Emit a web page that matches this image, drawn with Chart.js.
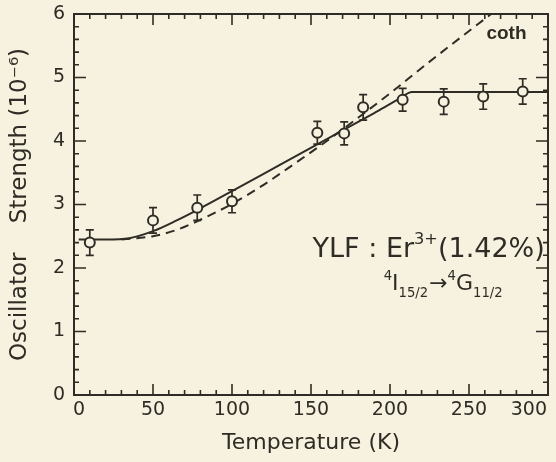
<!DOCTYPE html>
<html>
<head>
<meta charset="utf-8">
<script src="https://cdn.jsdelivr.net/npm/chart.js@4.4.1/dist/chart.umd.min.js"></script>
<style>
  html, body { margin: 0; padding: 0; background: #f7f2e0; overflow: hidden; }
  canvas { display: block; }
</style>
</head>
<body>
<canvas id="myChart" width="556" height="462"></canvas>
<script>
// measured points (open circles with error bars)
const tempK = [10, 50, 78, 100, 154, 171, 183, 208, 234, 259, 284];
const strength = [2.4, 2.75, 2.95, 3.05, 4.13, 4.12, 4.53, 4.65, 4.62, 4.7, 4.78];
const errBar = [0.2, 0.2, 0.2, 0.18, 0.18, 0.18, 0.2, 0.18, 0.2, 0.2, 0.2];

// solid fit curve
const fitTemp = [3, 20, 35, 50, 65, 80, 100, 130, 160, 190, 205, 214, 300];
const fitVal = [2.45, 2.45, 2.47, 2.58, 2.75, 2.94, 3.21, 3.62, 4.03, 4.44, 4.65, 4.77, 4.77];

// dashed "coth" curve
const cothTemp = [30, 40, 50, 65, 80, 100, 120, 140, 160, 180, 200, 220, 240, 264];
const cothVal = [2.45, 2.47, 2.5, 2.6, 2.76, 3.01, 3.31, 3.65, 4.0, 4.37, 4.75, 5.15, 5.54, 6.0];

const xTicks = [0, 50, 100, 150, 200, 250, 300];
const yTicks = [0, 1, 2, 3, 4, 5, 6];

const ink = '#2f2c25';
const paper = '#f7f2e0';
const face = '"DejaVu Sans", sans-serif';

const toXY = (xs, ys) => xs.map((v, i) => ({ x: v, y: ys[i] }));

function drawRuns(ctx, x, y, runs, size) {
    for (const r of runs) {
        const s = (r.sub || r.sup) ? size * 0.6 : size;
        ctx.font = `${s}px ${face}`;
        const dy = r.sup ? -size * 0.45 : r.sub ? size * 0.32 : 0;
        ctx.fillText(r.t, x, y + dy);
        x += ctx.measureText(r.t).width + (r.gap || 0);
    }
}

const frame = {
    id: 'frame',
    beforeDraw(chart) {
        const c = chart.ctx;
        c.save();
        c.fillStyle = paper;
        c.fillRect(0, 0, chart.width, chart.height);
        c.restore();
    },
    beforeDatasetDraw(chart, args) {
        if (args.index !== 0) return;
        const { ctx, scales: { x, y } } = chart;
        ctx.save();
        ctx.strokeStyle = ink;
        ctx.lineWidth = 1.7;
        ctx.beginPath();
        tempK.forEach((t, i) => {
            const px = x.getPixelForValue(t);
            const top = y.getPixelForValue(strength[i] + errBar[i]);
            const bot = y.getPixelForValue(strength[i] - errBar[i]);
            ctx.moveTo(px, top); ctx.lineTo(px, bot);
            ctx.moveTo(px - 4, top); ctx.lineTo(px + 4, top);
            ctx.moveTo(px - 4, bot); ctx.lineTo(px + 4, bot);
        });
        ctx.stroke();
        ctx.restore();
    },
    afterDraw(chart) {
        const { ctx, chartArea: a, scales: { x, y } } = chart;
        ctx.save();
        ctx.strokeStyle = ink;
        ctx.lineWidth = 2;
        ctx.strokeRect(a.left, a.top, a.right - a.left, a.bottom - a.top);
        ctx.lineWidth = 1.6;
        ctx.beginPath();
        for (let t = 0; t <= 300; t += 10) {
            const px = x.getPixelForValue(t);
            const len = t % 50 === 0 ? 11 : 5;
            ctx.moveTo(px, a.bottom); ctx.lineTo(px, a.bottom - len);
            ctx.moveTo(px, a.top); ctx.lineTo(px, a.top + len);
        }
        for (let i = 0; i <= 30; i++) {
            const py = y.getPixelForValue(i / 5);
            const len = i % 5 === 0 ? 12 : 5;
            ctx.moveTo(a.left, py); ctx.lineTo(a.left + len, py);
            ctx.moveTo(a.right, py); ctx.lineTo(a.right - len, py);
        }
        ctx.stroke();

        // x tick labels; first and last pulled inside the frame
        ctx.fillStyle = ink;
        ctx.font = `19px ${face}`;
        ctx.textBaseline = 'top';
        ctx.textAlign = 'center';
        const last = xTicks.length - 1;
        xTicks.forEach((v, i) => {
            const label = String(v);
            const w = ctx.measureText(label).width;
            let px = x.getPixelForValue(v);
            if (i === 0) px += w / 2 - 1;
            if (i === last) px -= w / 2 + 1;
            ctx.fillText(label, px, a.bottom + 6);
        });

        ctx.textAlign = 'left';
        ctx.textBaseline = 'alphabetic';
        ctx.font = 'bold 19px "Liberation Sans", Arial, sans-serif';
        ctx.fillText('coth', x.getPixelForValue(261), y.getPixelForValue(5.6));

        drawRuns(ctx, x.getPixelForValue(151), y.getPixelForValue(2.18), [
            { t: 'YLF : Er' }, { t: '3+', sup: true }, { t: '(1.42%)' }
        ], 27);
        drawRuns(ctx, x.getPixelForValue(196), y.getPixelForValue(1.66), [
            { t: '4', sup: true }, { t: 'I' }, { t: '15/2', sub: true, gap: 1 },
            { t: '→' }, { t: '4', sup: true }, { t: 'G' }, { t: '11/2', sub: true }
        ], 22);
        ctx.restore();
    }
};

const ctx = document.getElementById('myChart').getContext('2d');
new Chart(ctx, {
    type: 'scatter',
    data: {
        datasets: [
            {
                label: 'Measured',
                data: toXY(tempK, strength),
                showLine: false,
                pointRadius: 5,
                pointBorderWidth: 2,
                pointBorderColor: ink,
                pointBackgroundColor: paper
            },
            {
                label: 'Fit',
                data: toXY(fitTemp, fitVal),
                showLine: true,
                borderColor: ink,
                borderWidth: 2,
                pointRadius: 0,
                cubicInterpolationMode: 'monotone'
            },
            {
                label: 'coth',
                data: toXY(cothTemp, cothVal),
                showLine: true,
                borderColor: ink,
                borderWidth: 2,
                borderDash: [9, 6],
                pointRadius: 0,
                cubicInterpolationMode: 'monotone'
            }
        ]
    },
    options: {
        responsive: false,
        animation: false,
        devicePixelRatio: 1,
        layout: { padding: { top: 14, right: 8, left: 0, bottom: 0 } },
        plugins: { legend: { display: false }, tooltip: { enabled: false } },
        scales: {
            x: {
                type: 'linear',
                min: 0,
                max: 300,
                afterBuildTicks: (s) => { s.ticks = xTicks.map(v => ({ value: v })); },
                afterFit: (s) => { s.height = 67; s.paddingLeft = 0; s.paddingRight = 0; },
                grid: { display: false, drawTicks: false },
                border: { display: false },
                ticks: { display: false },
                title: {
                    display: true,
                    text: 'Temperature (K)',
                    color: ink,
                    font: { family: face, size: 22 },
                    padding: { top: 6, bottom: 6 }
                }
            },
            y: {
                min: 0,
                max: 6,
                afterBuildTicks: (s) => { s.ticks = yTicks.map(v => ({ value: v })); },
                afterFit: (s) => { s.width = 74; s.paddingTop = 0; s.paddingBottom = 0; },
                grid: { display: false, drawTicks: false },
                border: { display: false },
                ticks: { color: ink, font: { family: face, size: 19 }, padding: 9, autoSkip: false },
                title: {
                    display: true,
                    text: 'Oscillator    Strength (10⁻⁶)',
                    color: ink,
                    font: { family: face, size: 23 },
                    padding: { top: 6, bottom: 0 }
                }
            }
        }
    },
    plugins: [frame]
});
</script>
</body>
</html>
